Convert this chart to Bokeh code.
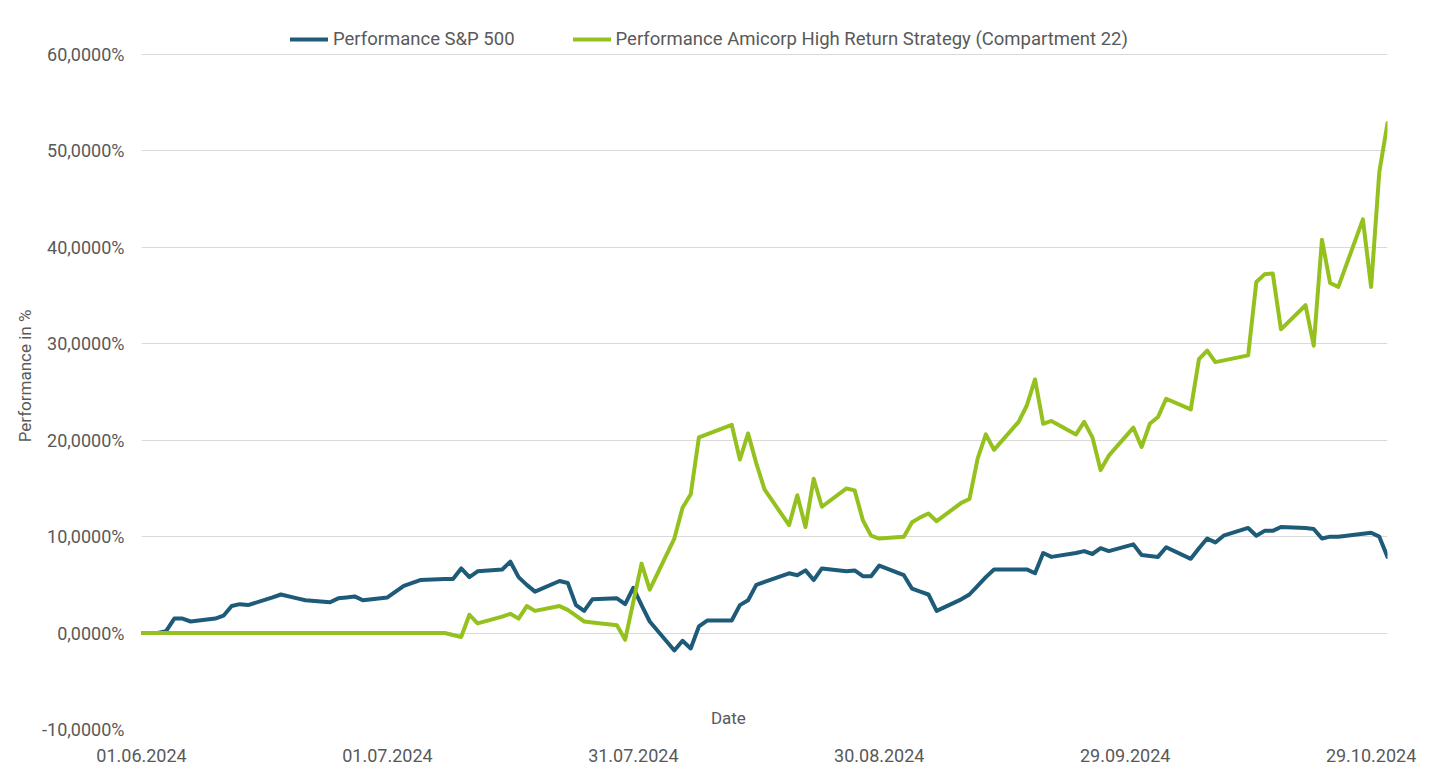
import pandas as pd
from bokeh.plotting import figure
from bokeh.models import (FixedTicker, DatetimeTickFormatter, CustomJSTickFormatter,
                          Range1d, Legend, LegendItem, Label)
from bokeh.embed import file_html
from bokeh.resources import INLINE

sp_dates = ["2024-06-01", "2024-06-03", "2024-06-04", "2024-06-05", "2024-06-06", "2024-06-07",
            "2024-06-10", "2024-06-11", "2024-06-12", "2024-06-13", "2024-06-14",
            "2024-06-17", "2024-06-18", "2024-06-20", "2024-06-21",
            "2024-06-24", "2024-06-25", "2024-06-26", "2024-06-27", "2024-06-28",
            "2024-07-01", "2024-07-02", "2024-07-03", "2024-07-05",
            "2024-07-08", "2024-07-09", "2024-07-10", "2024-07-11", "2024-07-12",
            "2024-07-15", "2024-07-16", "2024-07-17", "2024-07-18", "2024-07-19",
            "2024-07-22", "2024-07-23", "2024-07-24", "2024-07-25", "2024-07-26",
            "2024-07-29", "2024-07-30", "2024-07-31", "2024-08-01", "2024-08-02",
            "2024-08-05", "2024-08-06", "2024-08-07", "2024-08-08", "2024-08-09",
            "2024-08-12", "2024-08-13", "2024-08-14", "2024-08-15", "2024-08-16",
            "2024-08-19", "2024-08-20", "2024-08-21", "2024-08-22", "2024-08-23",
            "2024-08-26", "2024-08-27", "2024-08-28", "2024-08-29", "2024-08-30",
            "2024-09-02", "2024-09-03", "2024-09-04", "2024-09-05", "2024-09-06",
            "2024-09-09", "2024-09-10", "2024-09-11", "2024-09-12", "2024-09-13",
            "2024-09-16", "2024-09-17", "2024-09-18", "2024-09-19", "2024-09-20",
            "2024-09-23", "2024-09-24", "2024-09-25", "2024-09-26", "2024-09-27",
            "2024-09-30", "2024-10-01", "2024-10-02", "2024-10-03", "2024-10-04",
            "2024-10-07", "2024-10-08", "2024-10-09", "2024-10-10", "2024-10-11",
            "2024-10-14", "2024-10-15", "2024-10-16", "2024-10-17", "2024-10-18",
            "2024-10-21", "2024-10-22", "2024-10-23", "2024-10-24", "2024-10-25",
            "2024-10-28", "2024-10-29", "2024-10-30", "2024-10-31"]
sp_values = [0.0, 0.0, 0.2, 1.5, 1.5, 1.2,
             1.5, 1.8, 2.8, 3.0, 2.9,
             3.7, 4.0, 3.6, 3.4,
             3.2, 3.6, 3.7, 3.8, 3.4,
             3.7, 4.3, 4.9, 5.5,
             5.6, 5.6, 6.7, 5.8, 6.4,
             6.6, 7.4, 5.8, 5.0, 4.3,
             5.4, 5.2, 2.9, 2.3, 3.5,
             3.6, 3.0, 4.7, 2.9, 1.2,
             -1.8, -0.8, -1.6, 0.7, 1.3,
             1.3, 2.9, 3.4, 5.0, 5.3,
             6.2, 6.0, 6.5, 5.5, 6.7,
             6.4, 6.5, 5.9, 5.9, 7.0,
             6.0, 4.6, 4.3, 4.0, 2.3,
             3.5, 4.0, 4.9, 5.8, 6.6,
             6.6, 6.6, 6.2, 8.3, 7.9,
             8.3, 8.5, 8.2, 8.8, 8.5,
             9.2, 8.1, 8.0, 7.9, 8.9,
             7.7, 8.8, 9.8, 9.4, 10.1,
             10.9, 10.1, 10.6, 10.6, 11.0,
             10.9, 10.8, 9.8, 10.0, 10.0,
             10.3, 10.4, 10.0, 7.9]

hr_dates = ["2024-06-01", "2024-07-08", "2024-07-10", "2024-07-11", "2024-07-12",
            "2024-07-15", "2024-07-16", "2024-07-17", "2024-07-18", "2024-07-19",
            "2024-07-22", "2024-07-23", "2024-07-24", "2024-07-25", "2024-07-26",
            "2024-07-29", "2024-07-30", "2024-08-01", "2024-08-02",
            "2024-08-05", "2024-08-06", "2024-08-07", "2024-08-08",
            "2024-08-12", "2024-08-13", "2024-08-14", "2024-08-15", "2024-08-16",
            "2024-08-19", "2024-08-20", "2024-08-21", "2024-08-22", "2024-08-23",
            "2024-08-26", "2024-08-27", "2024-08-28", "2024-08-29", "2024-08-30",
            "2024-09-02", "2024-09-03", "2024-09-04", "2024-09-05", "2024-09-06",
            "2024-09-09", "2024-09-10", "2024-09-11", "2024-09-12", "2024-09-13",
            "2024-09-16", "2024-09-17", "2024-09-18", "2024-09-19", "2024-09-20",
            "2024-09-23", "2024-09-24", "2024-09-25", "2024-09-26", "2024-09-27",
            "2024-09-30", "2024-10-01", "2024-10-02", "2024-10-03", "2024-10-04",
            "2024-10-07", "2024-10-08", "2024-10-09", "2024-10-10",
            "2024-10-14", "2024-10-15", "2024-10-16", "2024-10-17", "2024-10-18",
            "2024-10-21", "2024-10-22", "2024-10-23", "2024-10-24", "2024-10-25",
            "2024-10-28", "2024-10-29", "2024-10-30", "2024-10-31"]
hr_values = [0.0, 0.0, -0.4, 1.9, 1.0,
             1.7, 2.0, 1.5, 2.8, 2.3,
             2.8, 2.4, 1.8, 1.2, 1.1,
             0.8, -0.7, 7.2, 4.5,
             9.8, 13.0, 14.4, 20.3,
             21.6, 18.0, 20.7, 17.6, 14.9,
             11.2, 14.3, 11.0, 16.0, 13.1,
             15.0, 14.8, 11.7, 10.1, 9.8,
             10.0, 11.5, 12.0, 12.4, 11.6,
             13.5, 13.9, 18.1, 20.6, 19.0,
             21.9, 23.6, 26.3, 21.7, 22.0,
             20.6, 21.9, 20.3, 16.9, 18.4,
             21.3, 19.3, 21.7, 22.4, 24.3,
             23.2, 28.4, 29.3, 28.1,
             28.8, 36.4, 37.2, 37.3, 31.5,
             34.0, 29.8, 40.8, 36.3, 35.9,
             42.9, 35.9, 47.8, 52.9]

x_tick_dates = ["2024-06-01", "2024-07-01", "2024-07-31", "2024-08-30", "2024-09-29", "2024-10-29"]
y_ticks = [-10, 0, 10, 20, 30, 40, 50, 60]
series_names = ["Performance S&P 500", "Performance Amicorp High Return Strategy (Compartment 22)"]
x_title = "Date"
y_title = "Performance in %"

FONT = "Roboto"
FS = "18px"
TXT = "#595959"
BLUE = "#1d5b79"
GREEN = "#95c11f"

sp_x = pd.to_datetime(sp_dates)
hr_x = pd.to_datetime(hr_dates)
x_start = pd.Timestamp("2024-06-01")
x_end = pd.Timestamp("2024-10-31")

# frame: -10 .. 60 spans 675 px; frame extended 32 px above the 60 line to hold the legend
y_lo, y_hi = min(y_ticks), max(y_ticks)
extra_top = 32 * (y_hi - y_lo) / 675.0

p = figure(width=1444, height=781, x_axis_type="datetime", output_backend="svg",
           toolbar_location=None, x_range=Range1d(x_start, x_end),
           y_range=Range1d(y_lo, y_hi + extra_top),
           min_border_left=141, min_border_right=57, min_border_top=22, min_border_bottom=52)
p.outline_line_color = None
p.background_fill_color = "white"
p.border_fill_color = "white"
p.styles = {"outline": "1px solid #d9d9d9", "outline-offset": "-6px"}

r1 = p.line(sp_x, sp_values, line_color=BLUE, line_width=4, line_join="round", line_cap="round")
r2 = p.line(hr_x, hr_values, line_color=GREEN, line_width=4, line_join="round", line_cap="round")

tick_ms = [pd.Timestamp(d).value // 10**6 for d in x_tick_dates]
p.xaxis.ticker = FixedTicker(ticks=tick_ms)
fmt = "%d.%m.%Y"
p.xaxis.formatter = DatetimeTickFormatter(milliseconds=fmt, seconds=fmt, minsec=fmt, minutes=fmt,
                                          hourmin=fmt, hours=fmt, days=fmt, months=fmt, years=fmt)
p.yaxis.ticker = FixedTicker(ticks=y_ticks)
p.yaxis.formatter = CustomJSTickFormatter(code="return tick.toFixed(4).replace('.', ',') + '%';")

for ax in (p.xaxis[0], p.yaxis[0]):
    ax.axis_line_color = None
    ax.major_tick_line_color = None
    ax.minor_tick_line_color = None
    ax.major_tick_out = 0
    ax.major_tick_in = 0
    ax.minor_tick_out = 0
    ax.major_label_text_font = FONT
    ax.major_label_text_font_size = FS
    ax.major_label_text_color = TXT
    ax.axis_label_text_font = FONT
    ax.axis_label_text_font_size = "17px"
    ax.axis_label_text_color = TXT
    ax.axis_label_text_font_style = "normal"

p.xaxis.major_label_standoff = 19
p.yaxis.major_label_standoff = 17
p.yaxis.axis_label = y_title
p.yaxis.axis_label_standoff = 4

p.xgrid.grid_line_color = None
p.ygrid.grid_line_color = "#d9d9d9"
p.ygrid.grid_line_width = 1.2

date_lbl = Label(x=x_start + (x_end - x_start) * 0.471, y=-8.85, text=x_title,
                 text_font=FONT, text_font_size="17px", text_color=TXT,
                 text_align="center", text_baseline="middle")
p.add_layout(date_lbl)

legend = Legend(items=[LegendItem(label=series_names[0], renderers=[r1]),
                       LegendItem(label=series_names[1], renderers=[r2])],
                orientation="horizontal", location=(149, 679),
                padding=0, margin=0, spacing=58, label_standoff=5,
                glyph_width=38, glyph_height=20, label_height=20,
                border_line_color=None, background_fill_alpha=0,
                label_text_font=FONT, label_text_font_size="18.5px", label_text_color=TXT)
p.add_layout(legend)

open("out.html", "w").write(file_html(p, INLINE))
